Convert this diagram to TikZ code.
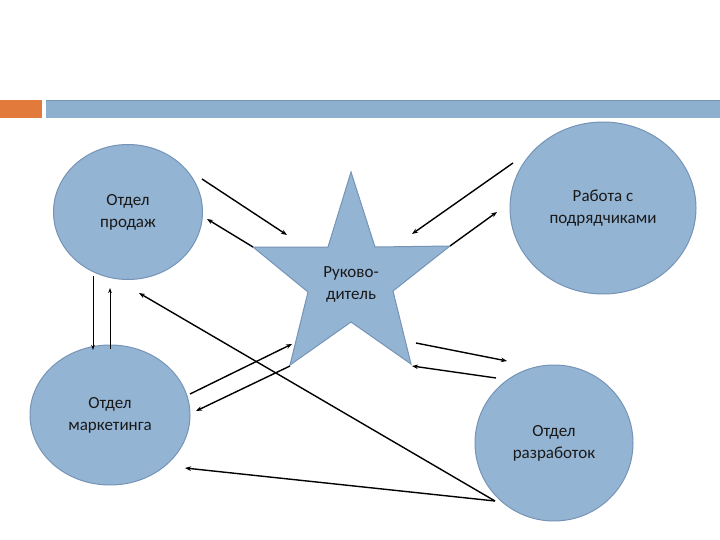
\documentclass[tikz,border=0pt]{standalone}
\usepackage{fontspec}
\setmainfont{Carlito}
\usetikzlibrary{arrows.meta,shapes.geometric}
\definecolor{barorange}{RGB}{226,122,59}
\definecolor{barblue}{RGB}{142,176,207}
\definecolor{shapefill}{RGB}{148,180,211}
\definecolor{shapeline}{RGB}{118,148,182}
\definecolor{txt}{RGB}{25,25,25}
\tikzset{
  dept/.style={ellipse, fill=shapefill, draw=shapeline, line width=1pt, align=center, text=txt, font=\fontsize{17}{22}\selectfont, inner sep=0pt},
  conn/.style={line width=1.4pt, -{Stealth[length=6pt,width=4.5pt]}},
  thin conn/.style={line width=0.9pt, -{Stealth[length=5pt,width=3.5pt]}}
}
\begin{document}
\begin{tikzpicture}[x=1pt,y=-1pt]
\useasboundingbox (0,0) rectangle (720,540);
% top bar
\fill[barorange] (0,100) rectangle (42,118);
\fill[barblue] (46,100) rectangle (720,118);
\draw[shapeline, line width=0.6pt] (46,100.5) -- (720,100.5);
% departments
\node[dept, minimum width=149pt, minimum height=135pt] (sales) at (128,212) {Отдел\\продаж};
\node[dept, minimum width=186pt, minimum height=172pt] (contr) at (603,208) {Работа с\\подрядчиками};
\node[dept, minimum width=160pt, minimum height=140pt] (mark) at (110,415) {Отдел\\маркетинга};
\node[dept, minimum width=158pt, minimum height=156pt] (dev) at (554,443) {Отдел\\разработок};
% star
\filldraw[fill=shapefill, draw=shapeline, line width=1pt]
  (351,172) -- (375,247) -- (450,246) -- (393,291) -- (411,364) -- (351,322)
  -- (290,365) -- (308,292) -- (253,247) -- (328,247) -- cycle;
\node[align=center, text=txt, font=\fontsize{17}{22}\selectfont] (boss) at (351,284) {Руково-\\дитель};
% connector end points
\coordinate (s1a) at (202,179); \coordinate (s1b) at (287,235);
\coordinate (s2a) at (253,247); \coordinate (s2b) at (207,219);
\coordinate (c1a) at (513,163); \coordinate (c1b) at (412,234);
\coordinate (c2a) at (450,246); \coordinate (c2b) at (497,212);
\coordinate (v1a) at (93,276);  \coordinate (v1b) at (93,350);
\coordinate (v2a) at (110,349); \coordinate (v2b) at (110,288);
\coordinate (d0) at (495,501);
\coordinate (d1b) at (139,293);
\coordinate (d2b) at (185,468);
\coordinate (m1a) at (190,394); \coordinate (m1b) at (292,344);
\coordinate (m2a) at (290,366); \coordinate (m2b) at (196,411);
\coordinate (e1a) at (416,343); \coordinate (e1b) at (507,361);
\coordinate (e2a) at (496,378); \coordinate (e2b) at (412,366);
% connectors
\draw[conn] (s1a) -- (s1b);
\draw[conn] (s2a) -- (s2b);
\draw[conn] (c1a) -- (c1b);
\draw[conn] (c2a) -- (c2b);
\draw[thin conn] (v1a) -- (v1b);
\draw[thin conn] (v2a) -- (v2b);
\draw[conn] (d0) -- (d1b);
\draw[conn] (d0) -- (d2b);
\draw[conn] (m1a) -- (m1b);
\draw[conn] (m2a) -- (m2b);
\draw[conn] (e1a) -- (e1b);
\draw[conn] (e2a) -- (e2b);
\end{tikzpicture}
\end{document}
